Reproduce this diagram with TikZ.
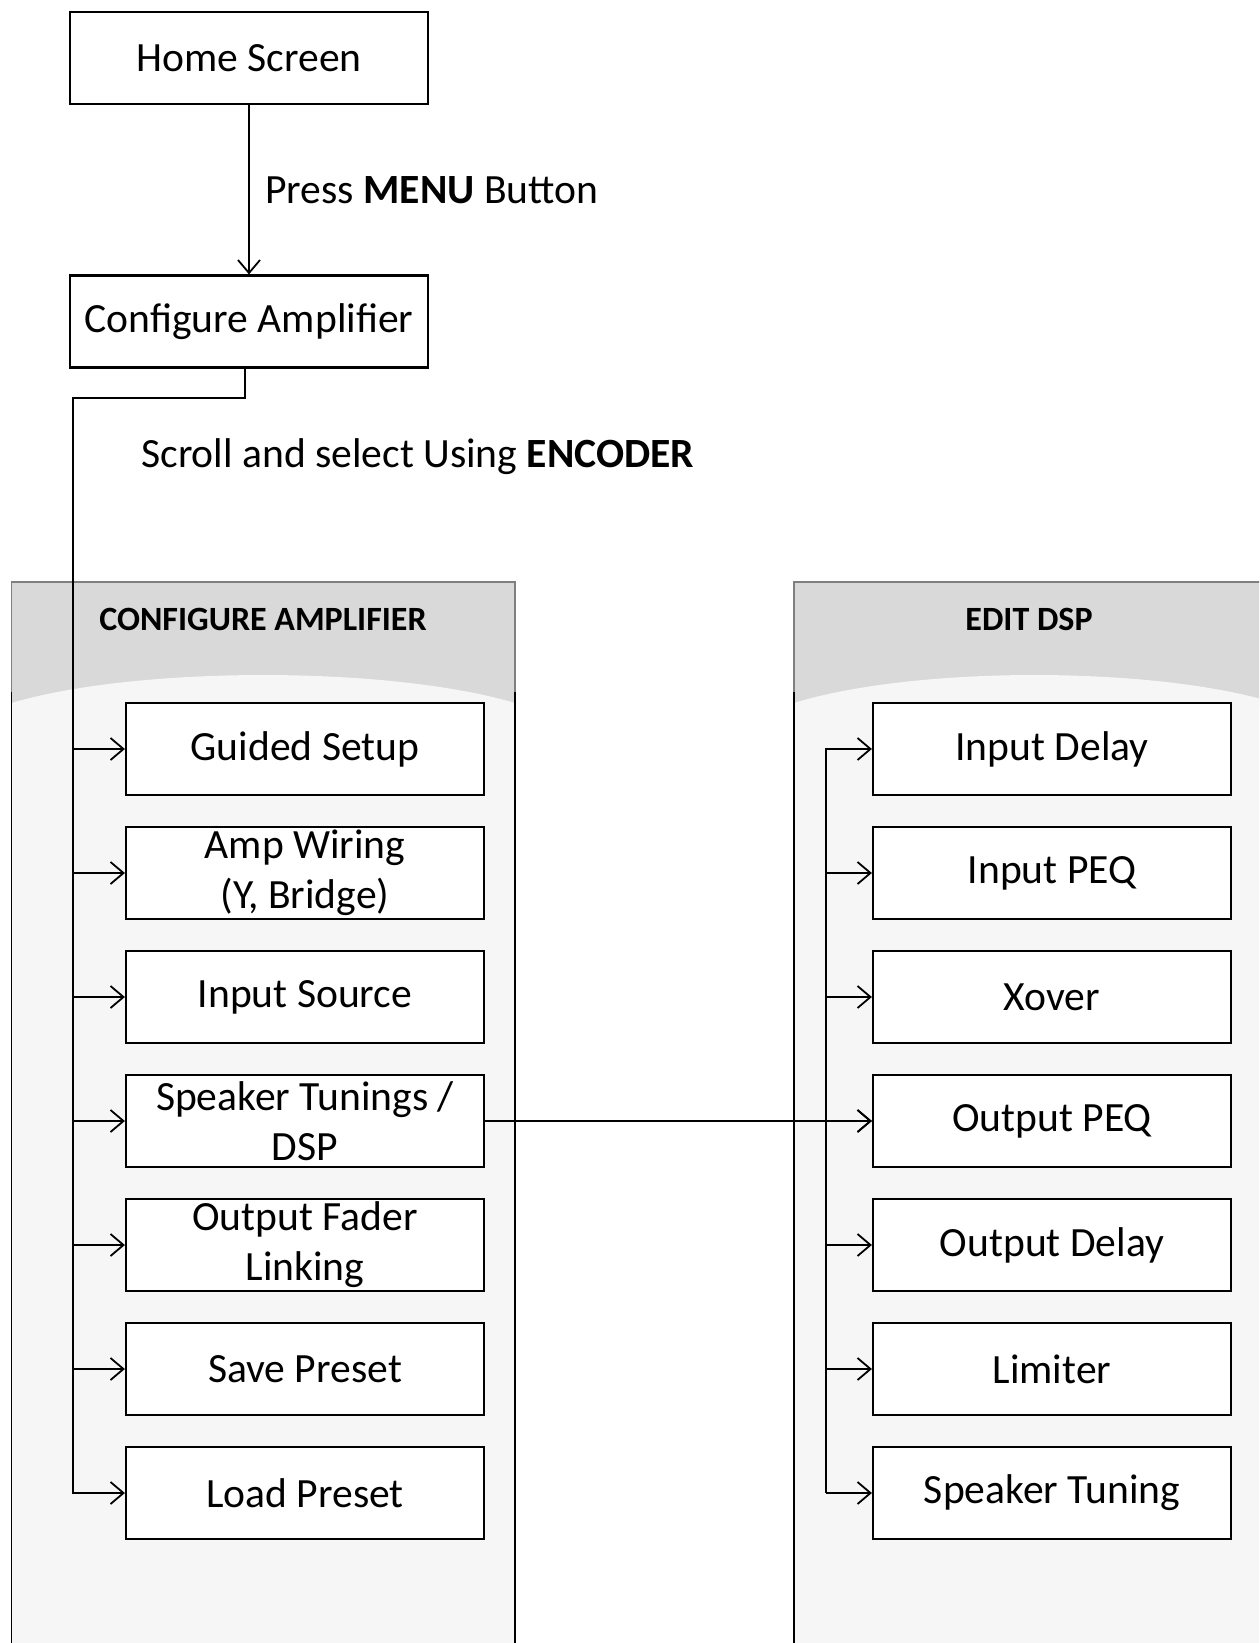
\documentclass[tikz,border=0pt]{standalone}
\usepackage{fontspec}
\setmainfont{Carlito}
\usetikzlibrary{arrows.meta}

\definecolor{hdrgray}{HTML}{D9D9D9}
\definecolor{bodygray}{HTML}{F6F6F6}
\definecolor{edgegray}{HTML}{7F7F7F}

% A grey panel with a curved header band:
% #1 left x, #2 right x, #3 title, #4 title node name, #5 title centre x
\newcommand\drawpanel[5]{%
  \fill[hdrgray] (#1,582) rectangle (#2,706);
  \fill[bodygray] (#1,703) .. controls ({#1+0.25*(#2-#1)},665.7) and ({#2-0.25*(#2-#1)},665.7) .. (#2,703)
        -- (#2,1660) -- (#1,1660) -- cycle;
  \draw[edgegray, line width=0.8pt] (#1,692) -- (#1,582) -- (#2,582) -- (#2,692);
  \draw[black, line width=0.9pt] (#1,692) -- (#1,1660) (#2,692) -- (#2,1660);
  \node[hdr, anchor=base] (#4) at (#5,630) {#3};
}

\begin{document}
\begin{tikzpicture}[
    x=0.5pt, y=-0.5pt,
    box/.style={draw=black, line width=1.1pt, fill=white, minimum width=179pt,
                minimum height=46pt, inner sep=0pt, align=center,
                font=\fontsize{20.8}{25}\selectfont},
    lbl/.style={inner sep=0pt, font=\fontsize{20.8}{25}\selectfont},
    hdr/.style={inner sep=0pt, font=\fontsize{17}{20}\selectfont\bfseries},
    conn/.style={line width=0.9pt},
    arr/.style={conn, -{Straight Barb[length=6.5pt,width=11pt]}}
  ]
  \useasboundingbox (0,0) rectangle (1259,1643);
  \clip (0,0) rectangle (1259,1643);
  \fill[white] (0,0) rectangle (1259,1643);

  % panels
  \drawpanel{11.5}{515}{CONFIGURE AMPLIFIER}{cfgtitle}{263}
  \drawpanel{794}{1275}{EDIT DSP}{dsptitle}{1029}

  % top of the flow
  \node[box] (home)   at (249,57.8)  {Home Screen};
  \node[box] (config) at (249,321.5) {Configure Amplifier};
  \node[lbl, anchor=base west] (menu)   at (265,203) {Press \textbf{MENU} Button};
  \node[lbl, anchor=base west] (scroll) at (141,467) {Scroll and select Using \textbf{ENCODER}};

  % configure amplifier menu items
  \node[box] (guided)  at (305,749)  {Guided Setup};
  \node[box] (amp)     at (305,873)  {Amp Wiring\\(Y, Bridge)};
  \node[box] (source)  at (305,997)  {Input Source};
  \node[box] (speaker) at (305,1121) {Speaker Tunings /\\DSP};
  \node[box] (fader)   at (305,1245) {Output Fader\\Linking};
  \node[box] (save)    at (305,1369) {Save Preset};
  \node[box] (load)    at (305,1493) {Load Preset};

  % edit dsp menu items
  \node[box] (indelay)  at (1052,749)  {Input Delay};
  \node[box] (inpeq)    at (1052,873)  {Input PEQ};
  \node[box] (xover)    at (1052,997)  {Xover};
  \node[box] (outpeq)   at (1052,1121) {Output PEQ};
  \node[box] (outdelay) at (1052,1245) {Output Delay};
  \node[box] (limiter)  at (1052,1369) {Limiter};
  \node[box] (tuning)   at (1052,1493) {Speaker Tuning};

  % connectors
  \draw[arr] (home) -- (config);

  \coordinate (trunk) at (73,398);
  \draw[arr] ([xshift=-2pt]config.south) |- (trunk) -- (trunk |- load.west) -- (load.west);
  \foreach \n in {guided,amp,source,speaker,fader,save}
    \draw[arr] (trunk |- \n.west) -- (\n.west);

  \coordinate (rtrunk) at (826,749);
  \draw[arr] (rtrunk |- tuning.west) -- (rtrunk |- indelay.west) -- (indelay.west);
  \foreach \n in {inpeq,xover,outpeq,outdelay,limiter,tuning}
    \draw[arr] (rtrunk |- \n.west) -- (\n.west);

  \draw[arr] (speaker.east) -- (outpeq.west);
\end{tikzpicture}
\end{document}
